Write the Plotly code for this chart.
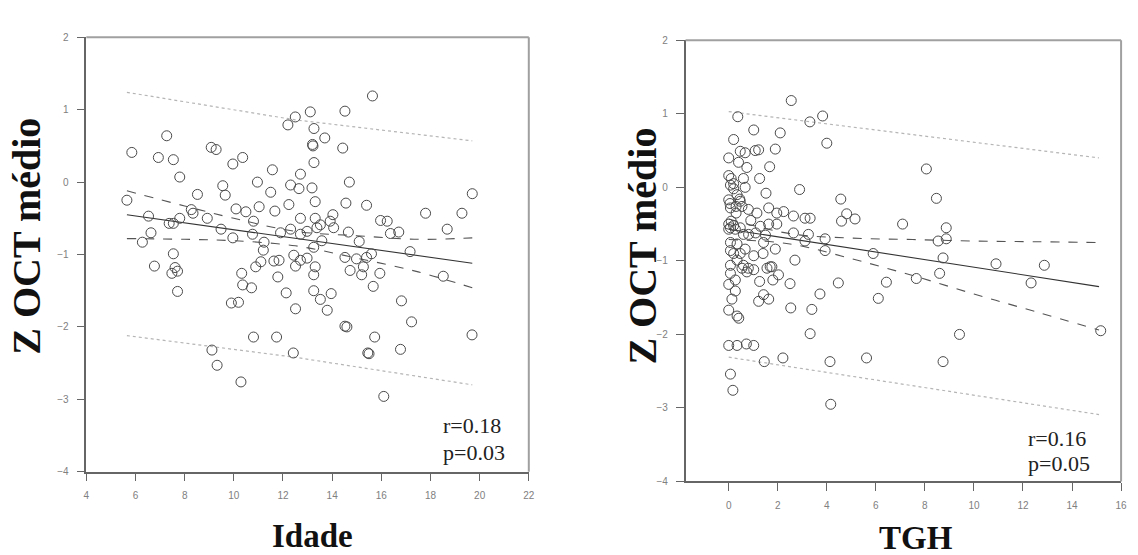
import plotly.graph_objects as go

# ---- Idade vs Z OCT médio ----
idade = [5.65, 5.85, 6.28, 6.53, 6.63, 6.77, 6.93, 7.27, 7.37, 7.48, 7.54, 7.54, 7.54, 7.61, 7.71,
         7.71, 7.80, 7.80, 8.27, 8.34, 8.52, 8.92, 9.08, 9.11, 9.28, 9.32, 9.48, 9.55, 9.65, 9.90,
         9.96, 9.96, 10.09, 10.19, 10.29, 10.32, 10.36, 10.36, 10.49, 10.72, 10.76, 10.80, 10.80, 10.89, 10.96,
         11.03, 11.10, 11.20, 11.23, 11.50, 11.57, 11.63, 11.67, 11.74, 11.79, 11.84, 11.90, 12.13, 12.20, 12.24,
         12.31, 12.31, 12.42, 12.44, 12.50, 12.51, 12.51, 12.65, 12.71, 12.71, 12.71, 12.71, 12.98, 12.98, 13.11,
         13.18, 13.20, 13.22, 13.25, 13.25, 13.26, 13.26, 13.25, 13.31, 13.31, 13.31, 13.38, 13.52, 13.52, 13.58,
         13.70, 13.80, 13.92, 13.96, 14.03, 14.06, 14.43, 14.52, 14.52, 14.52, 14.56, 14.60, 14.66, 14.70, 14.73,
         14.99, 15.10, 15.20, 15.27, 15.40, 15.40, 15.45, 15.50, 15.60, 15.64, 15.67, 15.73, 15.94, 15.97, 16.10,
         16.24, 16.37, 16.71, 16.78, 16.82, 17.17, 17.23, 17.80, 18.52, 18.68, 19.28, 19.69, 19.70]
z_idade = [-0.25, 0.41, -0.83, -0.47, -0.70, -1.16, 0.34, 0.64, -0.57, -1.26, 0.31, -0.57, -0.99, -1.18, -1.23,
           -1.51, 0.07, -0.50, -0.38, -0.43, -0.17, -0.50, 0.48, -2.32, 0.45, -2.53, -0.65, -0.05, -0.18, -1.67,
           0.25, -0.77, -0.37, -1.66, -2.76, -1.26, 0.34, -1.42, -0.41, -1.46, -0.72, -0.54, -2.14, -1.17, 0.00,
           -0.34, -1.10, -0.94, -0.83, -0.14, 0.17, -1.09, -0.40, -2.14, -1.31, -1.08, -0.70, -1.53, 0.79, -0.31,
           -0.04, -0.65, -2.36, -1.01, 0.90, -1.16, -1.75, -0.09, 0.11, -0.50, -0.72, -1.08, -0.68, -1.05, 0.97,
           -0.08, 0.52, 0.50, -1.28, -1.50, 0.74, 0.27, -0.90, -0.50, -1.17, -0.27, -0.63, -0.59, -1.62, -0.81,
           0.61, -1.77, -0.54, -1.54, -0.45, -0.63, 0.47, 0.98, -1.04, -1.99, -0.29, -2.00, -0.69, 0.00, -1.22,
           -1.06, -0.82, -1.28, -1.17, -0.32, -1.04, -2.36, -2.37, -0.99, 1.19, -1.44, -2.14, -1.26, -0.53, -2.96,
           -0.54, -0.71, -0.69, -2.31, -1.64, -0.96, -1.93, -0.43, -1.30, -0.65, -0.43, -2.11, -0.16]

# regression line, 95% confidence band and prediction band (Idade)
fit_x_idade = [5.65, 19.7]
fit_y_idade = [-0.45, -1.12]
ci_x_idade = [5.65, 8.0, 10.0, 12.5, 15.0, 17.5, 19.7]
ci_up_idade = [-0.12, -0.33, -0.50, -0.68, -0.74, -0.79, -0.77]
ci_lo_idade = [-0.78, -0.79, -0.81, -0.88, -1.05, -1.24, -1.46]
pi_x_idade = [5.65, 12.5, 19.7]
pi_up_idade = [1.24, 0.86, 0.57]
pi_lo_idade = [-2.12, -2.42, -2.80]

# ---- TGH vs Z OCT médio ----
tgh = [0.37, 2.55, 3.31, 3.83, 1.02, 2.10, 0.20, 4.00, 0.47, 0.67, 1.08, 1.22, 1.90, 0.00, 0.40,
       0.74, 1.67, 0.00, 1.26, 0.07, 0.20, 0.67, 2.89, 1.52, 0.34, 0.00, 0.47, 4.57, 0.07, 0.54,
       1.15, 1.63, 1.96, 2.24, 2.64, 3.11, 3.32, 4.60, 4.81, 5.15, 7.09, 0.00, 0.07, 0.20, 0.00,
       0.47, 0.81, 1.29, 1.63, 1.96, 2.64, 3.11, 3.25, 3.93, 0.07, 0.34, 0.67, 1.42, 1.90, 0.07,
       0.47, 1.02, 1.69, 2.70, 5.89, 3.93, 8.06, 8.47, 8.87, 8.54, 8.87, 8.74, 10.90, 12.87, 8.60,
       7.65, 12.33, 15.17, 9.41, 8.74, 0.07, 0.54, 0.74, 1.02, 1.56, 1.76, 2.03, 0.00, 0.27, 1.26,
       1.80, 2.50, 4.47, 3.72, 6.43, 6.10, 1.22, 1.42, 1.63, 0.00, 0.34, 0.41, 2.53, 3.39, 3.32,
       0.00, 0.34, 0.72, 1.02, 1.45, 2.21, 4.13, 5.62, 0.07, 0.17, 4.16, 0.10, 0.20, 0.60, 0.05,
       0.30, 0.45, 0.10, 0.27, 0.60, 0.20, 0.34, 0.60, 0.80, 0.07, 0.27, 0.13, 1.10, 1.40, 0.90,
       1.50, 0.30, 0.80]
z_tgh = [0.96, 1.18, 0.89, 0.97, 0.78, 0.74, 0.65, 0.60, 0.49, 0.47, 0.50, 0.51, 0.52, 0.40, 0.34,
         0.27, 0.28, 0.16, 0.12, 0.03, -0.02, 0.00, -0.03, -0.08, -0.10, -0.17, -0.19, -0.16, -0.28, -0.26,
         -0.35, -0.28, -0.35, -0.33, -0.39, -0.42, -0.42, -0.46, -0.36, -0.43, -0.50, -0.50, -0.55, -0.52, -0.57,
         -0.55, -0.64, -0.53, -0.50, -0.50, -0.62, -0.73, -0.64, -0.70, -0.75, -0.77, -0.84, -0.75, -0.84, -0.86,
         -0.90, -0.93, -1.08, -0.99, -0.90, -0.86, 0.25, -0.15, -0.55, -0.73, -0.70, -0.96, -1.04, -1.06, -1.17,
         -1.24, -1.30, -1.95, -2.00, -2.37, -1.06, -1.10, -1.15, -1.12, -1.10, -1.08, -1.19, -1.32, -1.41, -1.28,
         -1.26, -1.31, -1.30, -1.45, -1.29, -1.51, -1.55, -1.46, -1.52, -1.67, -1.75, -1.78, -1.64, -1.66, -1.99,
         -2.15, -2.15, -2.13, -2.15, -2.37, -2.32, -2.37, -2.32, -2.54, -2.76, -2.95, 0.12, 0.05, 0.12, -0.22,
         -0.26, -0.16, -0.46, -0.57, -0.64, -0.90, -0.99, -1.06, -1.10, -1.17, -1.26, -1.52, -0.62, -0.90, -0.45,
         -0.65, -0.35, -0.30]

# regression line, 95% confidence band and prediction band (TGH)
fit_x_tgh = [0.0, 15.1]
fit_y_tgh = [-0.57, -1.35]
ci_x_tgh = [0.0, 2.5, 5.0, 7.5, 10.0, 12.5, 15.1]
ci_up_tgh = [-0.43, -0.63, -0.69, -0.71, -0.73, -0.74, -0.75]
ci_lo_tgh = [-0.71, -0.77, -0.97, -1.20, -1.45, -1.69, -1.94]
pi_x_tgh = [0.0, 15.1]
pi_up_tgh = [1.03, 0.40]
pi_lo_tgh = [-2.31, -3.09]

stats_idade = ["r=0.18", "p=0.03"]
stats_tgh = ["r=0.16", "p=0.05"]

W, H = 1138, 555

fig = go.Figure()


def add_panel(xs, ys, fx, fy, cx, cu, cl, px, pu, pl, xa, ya):
    for yy in (pu, pl):
        fig.add_trace(go.Scatter(x=px, y=yy, mode="lines", xaxis=xa, yaxis=ya,
                                 line=dict(color="#b5b5b5", width=1.2, dash="dot")))
    for yy in (cu, cl):
        fig.add_trace(go.Scatter(x=cx, y=yy, mode="lines", line_shape="spline", xaxis=xa, yaxis=ya,
                                 line=dict(color="#555555", width=1.1, dash="dash")))
    fig.add_trace(go.Scatter(x=fx, y=fy, mode="lines", xaxis=xa, yaxis=ya,
                             line=dict(color="#333333", width=1.1)))
    fig.add_trace(go.Scatter(x=xs, y=ys, mode="markers", xaxis=xa, yaxis=ya,
                             marker=dict(symbol="circle-open", size=10, color="#4a4a4a",
                                         line=dict(color="#4a4a4a", width=1))))


add_panel(idade, z_idade, fit_x_idade, fit_y_idade, ci_x_idade, ci_up_idade, ci_lo_idade,
          pi_x_idade, pi_up_idade, pi_lo_idade, "x", "y")
add_panel(tgh, z_tgh, fit_x_tgh, fit_y_tgh, ci_x_tgh, ci_up_tgh, ci_lo_tgh,
          pi_x_tgh, pi_up_tgh, pi_lo_tgh, "x2", "y2")

tickfont = dict(family="Liberation Sans, Arial, sans-serif", size=10, color="#808080")
axis_common = dict(showgrid=False, zeroline=False, showline=True, linecolor="#666666", linewidth=1.5,
                   ticks="outside", ticklen=8, tickcolor="#666666", tickwidth=1, tickfont=tickfont,
                   fixedrange=True)

fig.update_layout(
    width=W, height=H, margin=dict(l=0, r=0, t=0, b=0),
    paper_bgcolor="white", plot_bgcolor="white", showlegend=False,
    xaxis=dict(axis_common, domain=[84 / W, 530 / W], range=[4, 22], tickvals=list(range(4, 23, 2)),
               anchor="y", ticklabelstandoff=6),
    yaxis=dict(axis_common, domain=[1 - 476 / H, 1 - 32 / H], range=[-4, 2], tickvals=list(range(-4, 3)),
               anchor="x", ticklabelstandoff=6),
    xaxis2=dict(axis_common, domain=[688 / W, 1127 / W], range=[-1.76, 16], tickvals=list(range(0, 17, 2)),
                anchor="y2", ticklabelstandoff=6),
    yaxis2=dict(axis_common, domain=[1 - 486 / H, 1 - 35 / H], range=[-4, 2], tickvals=list(range(-4, 3)),
                anchor="x2", ticklabelstandoff=6),
)

# light top/right frame borders
for xd, yd in (("x domain", "y domain"), ("x2 domain", "y2 domain")):
    fig.add_shape(type="line", xref=xd, yref=yd, x0=0, x1=1, y0=1, y1=1,
                  line=dict(color="#a0a0a0", width=2))
    fig.add_shape(type="line", xref=xd, yref=yd, x0=1, x1=1, y0=0, y1=1,
                  line=dict(color="#a0a0a0", width=2))

serif_bold = dict(family="Liberation Serif, Times New Roman, serif", size=40, color="#111111")
title_x = dict(family="Liberation Serif, Times New Roman, serif", size=33, color="#111111")
stat_font = dict(family="Liberation Serif, Times New Roman, serif", size=22, color="#222222")

annotations = [
    dict(text="<b>Z OCT médio</b>", x=24 / W, y=1 - 235 / H, textangle=-90, font=serif_bold),
    dict(text="<b>Z OCT médio</b>", x=645 / W, y=1 - 245 / H, textangle=-90, font=serif_bold),
    dict(text="<b>Idade</b>", x=312 / W, y=1 - 542 / H, font=title_x),
    dict(text="<b>TGH</b>", x=920 / W, y=1 - 544 / H, font=title_x),
    dict(text=stats_idade[0], x=441 / W, y=1 - 429 / H, xanchor="left", font=stat_font),
    dict(text=stats_idade[1], x=441 / W, y=1 - 456 / H, xanchor="left", font=stat_font),
    dict(text=stats_tgh[0], x=1031 / W, y=1 - 442 / H, xanchor="left", font=stat_font),
    dict(text=stats_tgh[1], x=1031 / W, y=1 - 468 / H, xanchor="left", font=stat_font),
]
for a in annotations:
    a.setdefault("xanchor", "center")
    fig.add_annotation(xref="paper", yref="paper", showarrow=False, yanchor="middle", **a)

fig.write_html("out.html")
